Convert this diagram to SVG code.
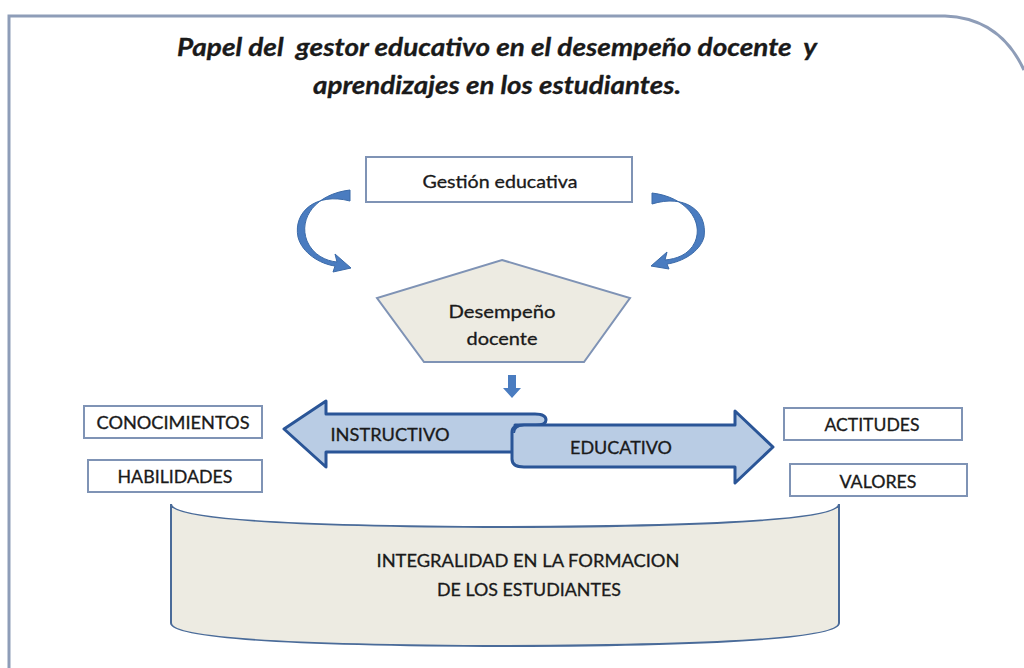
<svg xmlns="http://www.w3.org/2000/svg" width="1024" height="668" viewBox="0 0 1024 668">
<defs>
<style>
.t{font-family:Lato,"Open Sans","Liberation Sans",sans-serif;fill:#1a1a1a;font-size:17px;stroke:#1a1a1a;stroke-width:0.3px;}
.box{fill:#fff;stroke:#7f93b5;stroke-width:2;}
.beige{fill:#edebe2;stroke:#4a6b99;stroke-width:2;}
.blue{fill:#b9cce4;stroke:#2a5597;stroke-width:3;stroke-linejoin:round;}
.curl{fill:#4a7cc0;stroke:#3b6aa8;stroke-width:1;}
</style>
</defs>
<rect width="1024" height="668" fill="#fff"/>
<g id="frame">
<path d="M9,668 L9,16 L945,16 Q1000,18 1024,70" fill="none" stroke="#8e9db8" stroke-width="3"/>
</g>
<g id="title">
<text class="t" x="497" y="56" text-anchor="middle" style="font-size:24px" font-style="italic" font-weight="bold" textLength="640" lengthAdjust="spacingAndGlyphs" xml:space="preserve">Papel del  gestor educativo en el desempeño docente  y</text>
<text class="t" x="497" y="94" text-anchor="middle" style="font-size:24px" font-style="italic" font-weight="bold" textLength="368" lengthAdjust="spacingAndGlyphs">aprendizajes en los estudiantes.</text>
</g>
<g id="gestion">
<rect class="box" x="366" y="157" width="266" height="45"/>
<text class="t" x="500" y="188" text-anchor="middle" textLength="155" lengthAdjust="spacingAndGlyphs">Gestión educativa</text>
</g>
<g id="connectors">
<path class="curl" d="M350,190 C316,194 298,218 307,241 C313,255 326,261 337,262 L335,254 L351,268 L333,272 L335,266 C320,264 302,253 298,237 C293,212 316,192 350,201 Z"/>
<path class="curl" d="M652,193 C686,197 704,221 695,242 C689,255 676,259 665,260 L667,252 L651,266 L669,269 L667,264 C682,262 700,252 704,237 C708,210 684,194 652,204 Z"/>
<path d="M508,375 L516,375 L516,388 L521,388 L512,398 L503,388 L508,388 Z" fill="#4a7cc0"/>
</g>
<g id="desempeno">
<polygon class="beige" points="502,260 630,298 584,362 424,362 377,298" style="stroke:#7f93b5"/>
<text class="t" x="502" y="318" text-anchor="middle" textLength="107" lengthAdjust="spacingAndGlyphs">Desempeño</text>
<text class="t" x="502" y="345" text-anchor="middle" textLength="71" lengthAdjust="spacingAndGlyphs">docente</text>
</g>
<g id="instructivo">
<path class="blue" d="M284,429 L326,401 L326,414 L535,414 Q546,414 546,420 Q546,425 536,425 L515,425 L515,452 L326,452 L326,467 Z"/>
<text class="t" x="390" y="441" text-anchor="middle" textLength="119" lengthAdjust="spacingAndGlyphs">INSTRUCTIVO</text>
</g>
<g id="educativo">
<path class="blue" d="M524,425 L735,425 L735,411 L773,447 L735,483 L735,467 L524,467 Q512,467 512,459 L512,432 Q512,425 524,425 Z"/>
<path d="M524,425 Q514,426 514,433" fill="none" stroke="#2a5597" stroke-width="2"/>
<text class="t" x="621" y="454" text-anchor="middle" textLength="102" lengthAdjust="spacingAndGlyphs">EDUCATIVO</text>
</g>
<g id="conocimientos">
<rect class="box" x="84" y="406" width="178" height="32"/>
<text class="t" x="173" y="429" text-anchor="middle" textLength="153" lengthAdjust="spacingAndGlyphs">CONOCIMIENTOS</text>
</g>
<g id="habilidades">
<rect class="box" x="88" y="460" width="174" height="32"/>
<text class="t" x="175" y="483" text-anchor="middle" textLength="115" lengthAdjust="spacingAndGlyphs">HABILIDADES</text>
</g>
<g id="actitudes">
<rect class="box" x="784" y="408" width="178" height="32"/>
<text class="t" x="872" y="431" text-anchor="middle" textLength="95" lengthAdjust="spacingAndGlyphs">ACTITUDES</text>
</g>
<g id="valores">
<rect class="box" x="790" y="464" width="177" height="32"/>
<text class="t" x="878" y="488" text-anchor="middle" textLength="77" lengthAdjust="spacingAndGlyphs">VALORES</text>
</g>
<g id="integralidad">
<path class="beige" d="M171,504 Q171,526 505,527 Q839,526 839,504 L839,623 Q839,645 505,646 Q171,645 171,623 Z"/>
<text class="t" x="528" y="567" text-anchor="middle" textLength="303" lengthAdjust="spacingAndGlyphs">INTEGRALIDAD EN LA FORMACION</text>
<text class="t" x="529" y="596" text-anchor="middle" textLength="184" lengthAdjust="spacingAndGlyphs">DE LOS ESTUDIANTES</text>
</g>
</svg>
